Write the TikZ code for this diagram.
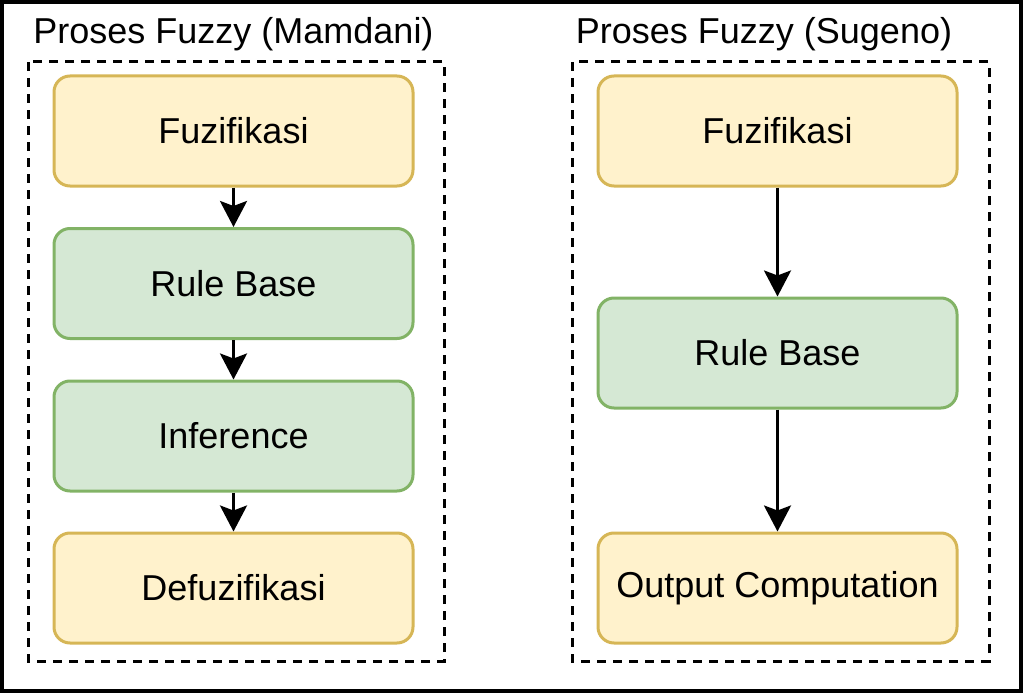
\documentclass[tikz,border=0pt]{standalone}
\usepackage{fontspec}
\setmainfont{Liberation Sans}
\usetikzlibrary{arrows.meta}
\definecolor{yfill}{HTML}{FFF2CC}
\definecolor{ydraw}{HTML}{D6B656}
\definecolor{gfill}{HTML}{D5E8D4}
\definecolor{gdraw}{HTML}{82B366}
\begin{document}
\begin{tikzpicture}[x=1pt,y=-1pt,
  box/.style={rounded corners=16pt, line width=3pt, minimum width=359pt, minimum height=110pt, inner sep=0pt, font=\fontsize{36}{40}\selectfont},
  ybox/.style={box, fill=yfill, draw=ydraw},
  gbox/.style={box, fill=gfill, draw=gdraw},
  frame/.style={line width=3pt, dash pattern=on 9pt off 7pt},
  title/.style={font=\fontsize{36}{40}\selectfont, inner sep=0pt},
  conn/.style={line width=3pt, -{Stealth[length=26pt, width=27pt, inset=5pt]}}
]
\useasboundingbox (0,0) rectangle (1023,693);
\draw[line width=4pt] (2,2) rectangle (1021,691);
\draw[frame] (28,62) rectangle (444,661);
\draw[frame] (572,62) rectangle (989,661);
\node[title] (t1) at (233.5,34) {Proses Fuzzy (Mamdani)};
\node[title] (t2) at (764,34) {Proses Fuzzy (Sugeno)};
\node[ybox] (a1) at (233.5,131) {Fuzifikasi};
\node[gbox] (a2) at (233.5,283.5) {Rule Base};
\node[gbox] (a3) at (233.5,436) {Inference};
\node[ybox] (a4) at (233.5,588) {Defuzifikasi};
\node[ybox] (b1) at (777.5,131) {Fuzifikasi};
\node[gbox] (b2) at (777.5,353) {Rule Base};
\node[ybox] (b3) at (777.5,588) {Output Computation};
\draw[conn] (a1) -- (a2);
\draw[conn] (a2) -- (a3);
\draw[conn] (a3) -- (a4);
\draw[conn] (b1) -- (b2);
\draw[conn] (b2) -- (b3);
\end{tikzpicture}
\end{document}
